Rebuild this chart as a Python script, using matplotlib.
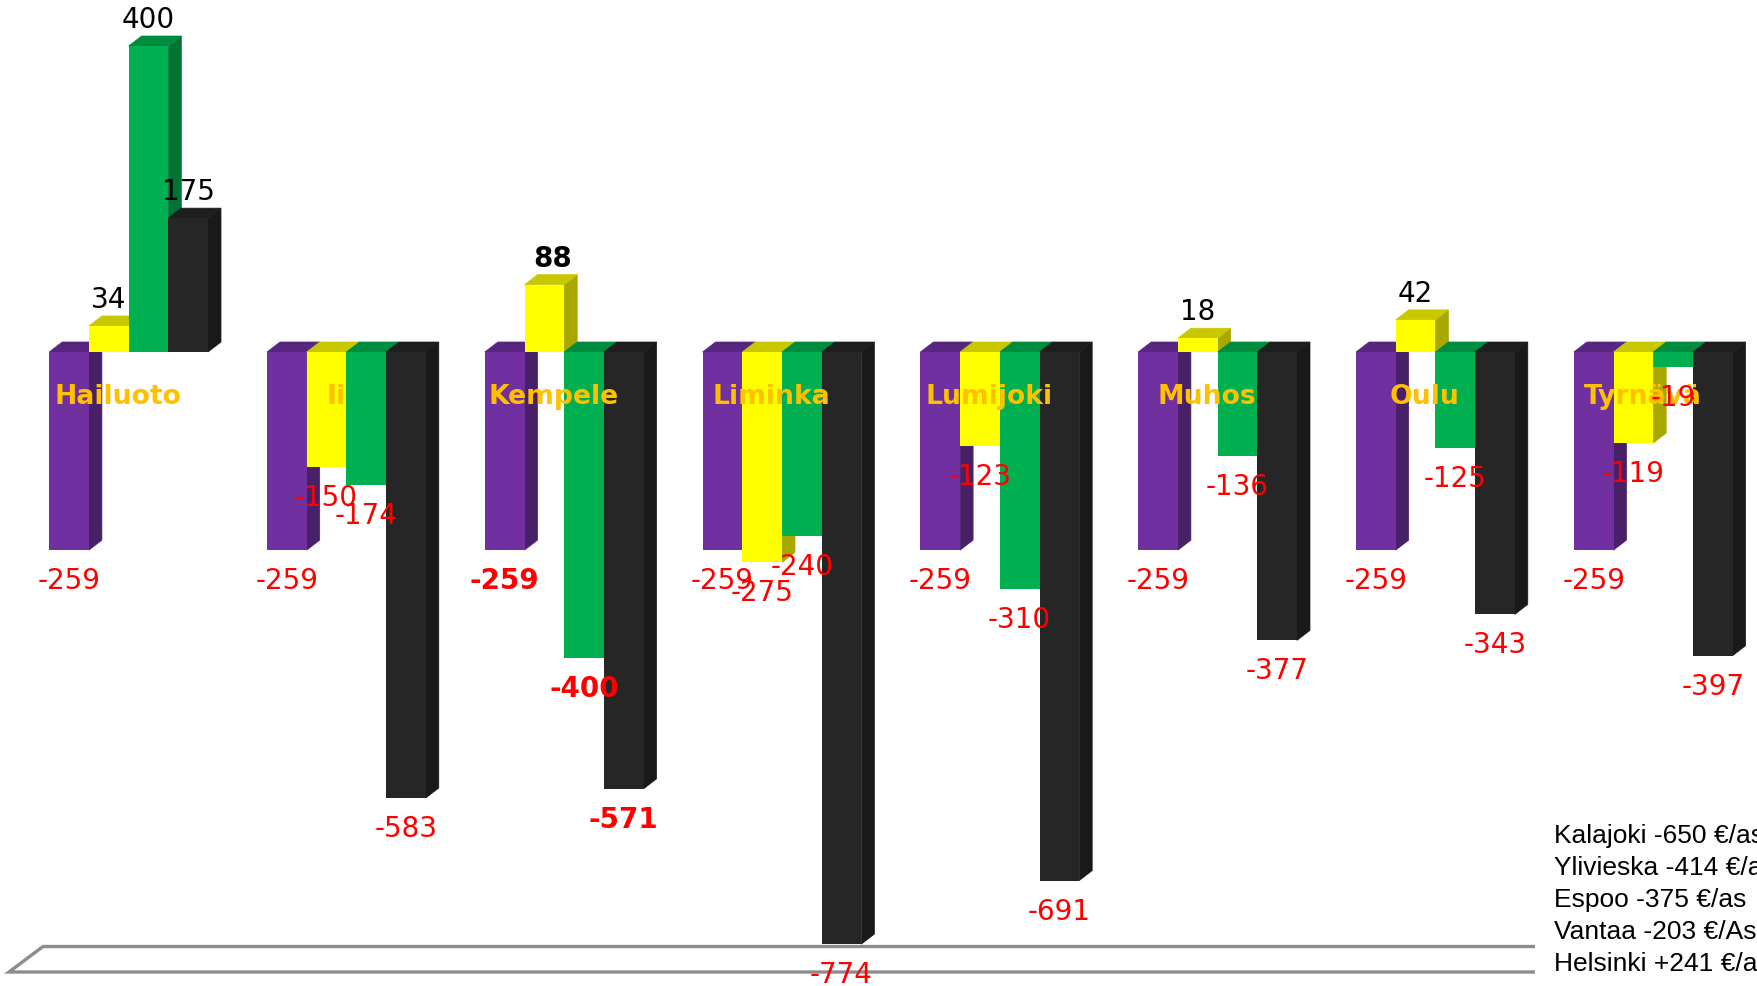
import matplotlib
matplotlib.use('Agg')
import matplotlib.pyplot as plt
from matplotlib.patches import Polygon

kunnat = ['Hailuoto', 'Ii', 'Kempele', 'Liminka', 'Lumijoki', 'Muhos', 'Oulu', 'Tyrnävä']
violetti = [-259, -259, -259, -259, -259, -259, -259, -259]
keltainen = [34, -150, 88, -275, -123, 18, 42, -119]
vihrea = [400, -174, -400, -240, -310, -136, -125, -19]
musta = [175, -583, -571, -774, -691, -377, -343, -397]
vertailu = ['Kalajoki -650 €/as', 'Ylivieska -414 €/as', 'Espoo -375 €/as',
            'Vantaa -203 €/As', 'Helsinki +241 €/as']
lihavoitu = 'Kempele'

sarjat = [violetti, keltainen, vihrea, musta]
etu = ['#7030A0', '#FFFF00', '#00B050', '#262626']
sivu = ['#482068', '#A8A800', '#007434', '#191919']
paa = ['#582680', '#C8C800', '#008C3E', '#1E1E1E']

W, H = 1758, 986
PX_X = 217.8          # pixels per group
PX_Y = 0.765          # pixels per euro
X0 = 49.2
Y0 = 352.0
BAR = 39.7 / PX_X
DX = 13 / PX_X
DY = 10 / PX_Y


def px_x(p):
    return (p - X0) / PX_X


def px_y(p):
    return (Y0 - p) / PX_Y


fig = plt.figure(figsize=(W / 100, H / 100), dpi=100)
ax = fig.add_axes([0, 0, 1, 1])
ax.set_xlim(px_x(0), px_x(W))
ax.set_ylim(px_y(H), px_y(0))
ax.axis('off')

# floor of the 3D chart
ax.plot([px_x(1535), px_x(9), px_x(43), px_x(1535)],
        [px_y(972), px_y(972), px_y(946.5), px_y(946.5)],
        color='#8C8C8C', lw=2.4, solid_joinstyle='miter', solid_capstyle='butt', zorder=1)

for i in range(len(kunnat)):
    for j, sarja in enumerate(sarjat):
        v = sarja[i]
        x = i + j * BAR
        z = 2 + i * 10 + j
        yla = max(v, 0)
        ala = min(v, 0)
        ax.add_patch(Polygon([(x + BAR, yla), (x + BAR + DX, yla + DY),
                              (x + BAR + DX, ala + DY), (x + BAR, ala)],
                             closed=True, fc=sivu[j], ec=sivu[j], lw=0.5, zorder=z))
        ax.add_patch(Polygon([(x, yla), (x + DX, yla + DY),
                              (x + BAR + DX, yla + DY), (x + BAR, yla)],
                             closed=True, fc=paa[j], ec=paa[j], lw=0.5, zorder=z))
        ax.bar(x, v, BAR, align='edge', color=etu[j], linewidth=0, zorder=z + 0.2)

for i, nimi in enumerate(kunnat):
    for j, sarja in enumerate(sarjat):
        v = sarja[i]
        paino = 'bold' if nimi == lihavoitu else 'normal'
        x = i + (j + 0.5) * BAR
        if v > 0:
            y = v + 26 / PX_Y
            vari = 'black'
            if paino == 'bold':
                x += 8 / PX_X
        else:
            y = v - 31 / PX_Y
            vari = 'red'
        ax.text(x, y, str(v), color=vari, fontsize=20, fontweight=paino,
                ha='center', va='center', family='DejaVu Sans', zorder=500)
    ax.text(i + 69 / PX_X, px_y(396.5), nimi, color='#FFC000', fontsize=19.2,
            fontweight='bold', ha='center', va='center', family='DejaVu Sans', zorder=400)

for k, rivi in enumerate(vertailu):
    ax.text(px_x(1554), px_y(836 + k * 32), rivi, color='black',
            fontsize=19, ha='left', va='center', family='Liberation Sans', zorder=600)

fig.savefig('out.png', dpi=100)
